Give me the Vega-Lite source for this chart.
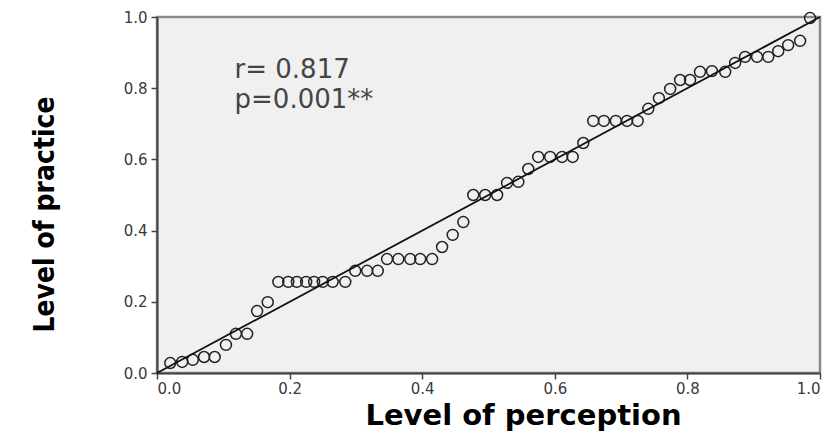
{
  "$schema": "https://vega.github.io/schema/vega-lite/v6.json",
  "width": 663,
  "height": 356,
  "autosize": {"type": "none"},
  "padding": {"left": 157, "top": 17, "right": 13, "bottom": 63},
  "background": "white",
  "config": {
    "view": {"fill": "#f0f0f0", "stroke": "#8a8a8a", "strokeWidth": 2.5},
    "axis": {
      "grid": false,
      "domainColor": "#444444",
      "domainWidth": 2,
      "tickColor": "#444444",
      "tickWidth": 1.5,
      "tickSize": 6,
      "labelFont": "DejaVu Sans",
      "labelFontSize": 15,
      "labelColor": "#3a3a3a",
      "titleColor": "#000000"
    }
  },
  "layer": [
    {
      "data": {"values": [
        {"perception": 0.020, "practice": 0.028},
        {"perception": 0.038, "practice": 0.031},
        {"perception": 0.054, "practice": 0.037},
        {"perception": 0.071, "practice": 0.045},
        {"perception": 0.087, "practice": 0.045},
        {"perception": 0.104, "practice": 0.079},
        {"perception": 0.119, "practice": 0.110},
        {"perception": 0.136, "practice": 0.110},
        {"perception": 0.151, "practice": 0.174},
        {"perception": 0.167, "practice": 0.199},
        {"perception": 0.183, "practice": 0.256},
        {"perception": 0.198, "practice": 0.256},
        {"perception": 0.211, "practice": 0.256},
        {"perception": 0.225, "practice": 0.256},
        {"perception": 0.237, "practice": 0.256},
        {"perception": 0.250, "practice": 0.256},
        {"perception": 0.265, "practice": 0.256},
        {"perception": 0.284, "practice": 0.256},
        {"perception": 0.299, "practice": 0.287},
        {"perception": 0.317, "practice": 0.287},
        {"perception": 0.333, "practice": 0.287},
        {"perception": 0.347, "practice": 0.320},
        {"perception": 0.364, "practice": 0.320},
        {"perception": 0.382, "practice": 0.320},
        {"perception": 0.397, "practice": 0.320},
        {"perception": 0.415, "practice": 0.320},
        {"perception": 0.430, "practice": 0.354},
        {"perception": 0.446, "practice": 0.388},
        {"perception": 0.462, "practice": 0.424},
        {"perception": 0.477, "practice": 0.500},
        {"perception": 0.495, "practice": 0.500},
        {"perception": 0.513, "practice": 0.500},
        {"perception": 0.528, "practice": 0.534},
        {"perception": 0.545, "practice": 0.537},
        {"perception": 0.560, "practice": 0.573},
        {"perception": 0.575, "practice": 0.607},
        {"perception": 0.593, "practice": 0.607},
        {"perception": 0.611, "practice": 0.607},
        {"perception": 0.627, "practice": 0.607},
        {"perception": 0.643, "practice": 0.646},
        {"perception": 0.658, "practice": 0.708},
        {"perception": 0.674, "practice": 0.708},
        {"perception": 0.692, "practice": 0.708},
        {"perception": 0.709, "practice": 0.708},
        {"perception": 0.725, "practice": 0.708},
        {"perception": 0.741, "practice": 0.742},
        {"perception": 0.757, "practice": 0.772},
        {"perception": 0.774, "practice": 0.798},
        {"perception": 0.789, "practice": 0.823},
        {"perception": 0.804, "practice": 0.823},
        {"perception": 0.819, "practice": 0.846},
        {"perception": 0.837, "practice": 0.848},
        {"perception": 0.857, "practice": 0.846},
        {"perception": 0.872, "practice": 0.871},
        {"perception": 0.887, "practice": 0.888},
        {"perception": 0.905, "practice": 0.888},
        {"perception": 0.922, "practice": 0.888},
        {"perception": 0.937, "practice": 0.904},
        {"perception": 0.952, "practice": 0.921},
        {"perception": 0.970, "practice": 0.933},
        {"perception": 0.985, "practice": 0.997}
      ]},
      "mark": {"type": "point", "shape": "circle", "filled": false, "size": 120, "stroke": "#222222", "strokeWidth": 1.5, "opacity": 1},
      "encoding": {
        "x": {
          "field": "perception", "type": "quantitative",
          "scale": {"domain": [0, 1], "nice": false, "zero": false},
          "axis": {"values": [0, 0.2, 0.4, 0.6, 0.8, 1.0], "format": ".1f", "title": "Level of perception",
            "titleFont": "DejaVu Sans", "titleFontWeight": "bold", "titleFontSize": 29,
            "titleX": 366, "titleY": 51, "titleAlign": "center", "titleBaseline": "alphabetic", "labelPadding": 2}
        },
        "y": {
          "field": "practice", "type": "quantitative",
          "scale": {"domain": [0, 1], "nice": false, "zero": false},
          "axis": {"values": [0, 0.2, 0.4, 0.6, 0.8, 1.0], "format": ".1f", "title": "Level of practice",
            "titleFont": "DejaVu Sans Condensed, Liberation Sans", "titleFontWeight": "bold", "titleFontSize": 28,
            "titleX": -104, "titleY": 197, "titleAngle": -90, "titleAlign": "center", "titleBaseline": "alphabetic", "labelPadding": 4}
        }
      }
    },
    {
      "data": {"values": [{"perception": 0, "practice": 0}, {"perception": 1, "practice": 1}]},
      "mark": {"type": "line", "color": "#111111", "strokeWidth": 1.8},
      "encoding": {
        "x": {"field": "perception", "type": "quantitative"},
        "y": {"field": "practice", "type": "quantitative"}
      }
    },
    {
      "data": {"values": [
        {"perception": 0.117, "practice": 0.852, "label": "r= 0.817"},
        {"perception": 0.117, "practice": 0.767, "label": "p=0.001**"}
      ]},
      "mark": {"type": "text", "align": "left", "baseline": "middle", "font": "DejaVu Sans", "fontSize": 26, "color": "#444444"},
      "encoding": {
        "x": {"field": "perception", "type": "quantitative"},
        "y": {"field": "practice", "type": "quantitative"},
        "text": {"field": "label", "type": "nominal"}
      }
    }
  ]
}
